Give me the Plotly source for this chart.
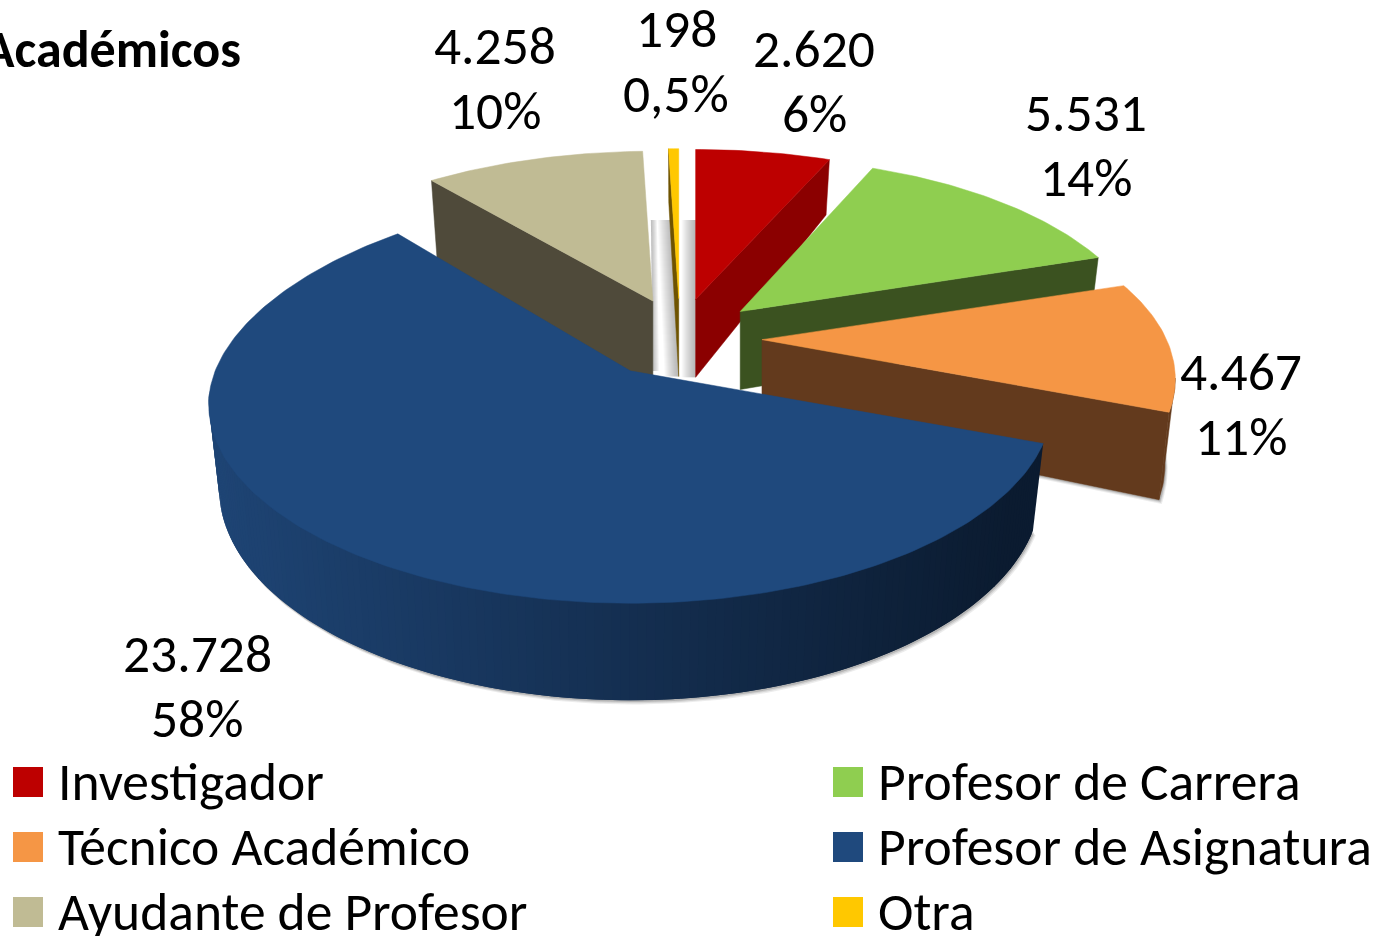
import math
import plotly.graph_objects as go

categories = ["Investigador", "Profesor de Carrera", "Técnico Académico",
              "Profesor de Asignatura", "Ayudante de Profesor", "Otra"]
values = [2620, 5531, 4467, 23728, 4258, 198]
value_labels = ["2.620", "5.531", "4.467", "23.728", "4.258", "198"]
percent_labels = ["6%", "14%", "11%", "58%", "10%", "0,5%"]
title_text = "Académicos"

top_colors = ["#BD0000", "#8FCE50", "#F59645", "#1F497D", "#C0BB94", "#FFC800"]
wall_colors = ["#8B0000", "#3B5220", "#633A1D", "#1F497D", "#4F4A3A", "#6E5300"]

# Projection constants of the tilted pie (page pixels)
CX, CY = 679, 338.5
PULL_X, PULL_Y = 83, 40
RX, RY, PERSP = 415, 185, 0.204
APEX_DEPTH, BOTTOM_SHRINK = 78, 0.975
# x/y scale of each slice's radius, and small x nudge of its apex
SCALE = [(.975, .975), (.965, 1.0), (.975, 1.0), (1, 1), (.975, .975), (.975, .975)]
NUDGE = [0, 0, 0, 0, 3, 1]
FONT = "Carlito, Calibri, Lato"
FS = 53.5

total = sum(values)
bounds = [0.0]
for v in values:
    bounds.append(bounds[-1] + 2 * math.pi * v / total)
BLUE = 3


def top_pt(t, i):
    u, v = math.sin(t), math.cos(t)
    w = 1 + PERSP * v
    x, y = RX * u / w, -RY * v / w
    if i == BLUE:
        return x * (1 + 0.03 * v), y * (1 + 0.14 * max(v, 0))
    return x * SCALE[i][0], y * SCALE[i][1]


def depth(t):
    v = math.cos(t)
    return 82 - 15 * v if v < 0 else 82 - 29 * v


def bot_pt(t, i, extra=0):
    x, y = top_pt(t, i)
    return x * BOTTOM_SHRINK, y + depth(t) + extra


def arc(a, b, step=math.radians(1.0)):
    n = max(2, int(abs(b - a) / step) + 2)
    return [a + (b - a) * k / (n - 1) for k in range(n)]


def apex(i):
    m = (bounds[i] + bounds[i + 1]) / 2
    return CX + PULL_X * math.sin(m) + NUDGE[i], CY - PULL_Y * math.cos(m)


def poly(fig, pts, color, lw=0.5):
    fig.add_trace(go.Scatter(x=[p[0] for p in pts] + [pts[0][0]],
                             y=[p[1] for p in pts] + [pts[0][1]],
                             mode="lines", fill="toself", fillcolor=color,
                             line=dict(width=lw, color=color), hoverinfo="skip",
                             showlegend=False))


def lerp_color(c1, c2, f):
    return "rgb(%d,%d,%d)" % tuple(round(a + (b - a) * f) for a, b in zip(c1, c2))


fig = go.Figure()

# soft shadows beneath the slices
for off, alpha in ((7, .10), (5, .14), (3, .22)):
    for i in (2, BLUE):
        ax, ay = apex(i)
        ts = [t for t in arc(bounds[i], bounds[i + 1]) if i != BLUE or top_pt(t, i)[1] > 30]
        pts = [(ax + off * .4, ay + APEX_DEPTH + off * .6)] + \
              [(ax + bot_pt(t, i)[0] + off * .4, ay + bot_pt(t, i)[1] + off * .6) for t in ts]
        poly(fig, pts, "rgba(70,70,70,%.2f)" % alpha, lw=0)

# soft grey shadows in the gaps between the back slices
ax0, ay0 = apex(0)
ax4, ay4 = apex(4)
ax5, ay5 = apex(5)
g = "rgba(90,90,90,0.035)"
for w in range(1, 15):
    poly(fig, [(ax0 - w, 220), (ax0, 220), (ax0, ay0 + APEX_DEPTH), (ax0 - w, ay0 + APEX_DEPTH)], g, lw=0)
    poly(fig, [(ax5 - 7 - w, 220), (ax5 - 7, 220), (ax5, ay5 + APEX_DEPTH), (ax5 - w, ay5 + APEX_DEPTH)], g, lw=0)
for w in range(1, 7):
    poly(fig, [(ax4 - 2, 220), (ax4 - 2 + w, 220), (ax4 + w, ay4 + 70), (ax4, ay4 + 70)],
         "rgba(90,90,90,0.07)", lw=0)

# Back-to-front painting order
for i in (4, 5, 0, 1, 2, BLUE):
    ax, ay = apex(i)
    a, b = bounds[i], bounds[i + 1]
    if i == BLUE:
        ts = arc(a, b)
        for j in range(len(ts) - 1):
            t0 = ts[j]
            t1 = ts[min(j + 2, len(ts) - 1)]   # overlap so no seams appear
            x = ax + top_pt(t0, i)[0]
            f = min(1, max(0, (x - 215) / 800))
            col = lerp_color((0x1E, 0x44, 0x74), (0x0B, 0x1B, 0x30), f)
            # the upper edge tucks under the top face to avoid a hairline
            tuck = 0 if j < 4 else 4
            p = [(ax + top_pt(t0, i)[0], ay + top_pt(t0, i)[1] - tuck),
                 (ax + top_pt(t1, i)[0], ay + top_pt(t1, i)[1] - tuck),
                 (ax + bot_pt(t1, i)[0], ay + bot_pt(t1, i)[1]),
                 (ax + bot_pt(t0, i)[0], ay + bot_pt(t0, i)[1])]
            if top_pt(t0, i)[1] > 30:
                poly(fig, p, col, lw=0)
    else:
        if i == 2:
            ts = arc(a + (b - a) * .75, b)
            rim = [(ax + top_pt(t, i)[0], ay + top_pt(t, i)[1]) for t in ts] + \
                  [(ax + bot_pt(t, i)[0], ay + bot_pt(t, i)[1]) for t in reversed(ts)]
            poly(fig, rim, wall_colors[i])
        # radial wall: tan and yellow show their counter-clockwise edge
        e = a if i in (4, 5) else b
        extra = 18 if i == 4 else 0
        low = 10 if i == 4 else 0
        poly(fig, [(ax, ay), (ax + top_pt(e, i)[0], ay + top_pt(e, i)[1]),
                   (ax + bot_pt(e, i, extra)[0], ay + bot_pt(e, i, extra)[1]),
                   (ax, ay + APEX_DEPTH + low)], wall_colors[i])
    ts = arc(a, b)
    poly(fig, [(ax, ay)] + [(ax + top_pt(t, i)[0], ay + top_pt(t, i)[1]) for t in ts], top_colors[i])

# Data labels: value on one line, share below it
label_pos = [(814, 48), (1086, 112), (1241, 371), (197, 653), (495, 45), (676, 28)]
annotations = []
for (x, y), val, pct in zip(label_pos, value_labels, percent_labels):
    for k, txt in enumerate((val, pct)):
        annotations.append(dict(x=x, y=y + 65 * k, text=txt, showarrow=False, xref="x", yref="y",
                                xanchor="center", yanchor="middle",
                                font=dict(family=FONT, size=FS, color="black")))
annotations.append(dict(x=243, y=49, text="<b>%s</b>" % title_text, showarrow=False, xref="x", yref="y",
                        xanchor="right", yanchor="middle", align="right",
                        font=dict(family=FONT, size=52, color="black")))

# Legend: two columns, three rows
legend_pos = [(28, 782), (848, 782), (28, 847), (848, 847), (28, 912), (848, 912)]
for (x, y), name, col in zip(legend_pos, categories, top_colors):
    fig.add_trace(go.Scatter(x=[x], y=[y], mode="markers", name=name, hoverinfo="skip", showlegend=False,
                             marker=dict(symbol="square", size=30, color=col, line=dict(width=0))))
    annotations.append(dict(x=x + 28, y=y - 1, text=name, showarrow=False, xref="x", yref="y",
                            xanchor="left", yanchor="middle",
                            font=dict(family=FONT, size=FS, color="black")))

fig.update_layout(width=1375, height=936, margin=dict(l=0, r=0, t=0, b=0),
                  paper_bgcolor="white", plot_bgcolor="white", showlegend=False,
                  annotations=annotations,
                  xaxis=dict(range=[0, 1375], visible=False, fixedrange=True),
                  yaxis=dict(range=[936, 0], visible=False, fixedrange=True))
fig.write_html("out.html", config=dict(displayModeBar=False),
               post_script="document.body.style.margin='0';document.body.style.overflow='hidden';")
